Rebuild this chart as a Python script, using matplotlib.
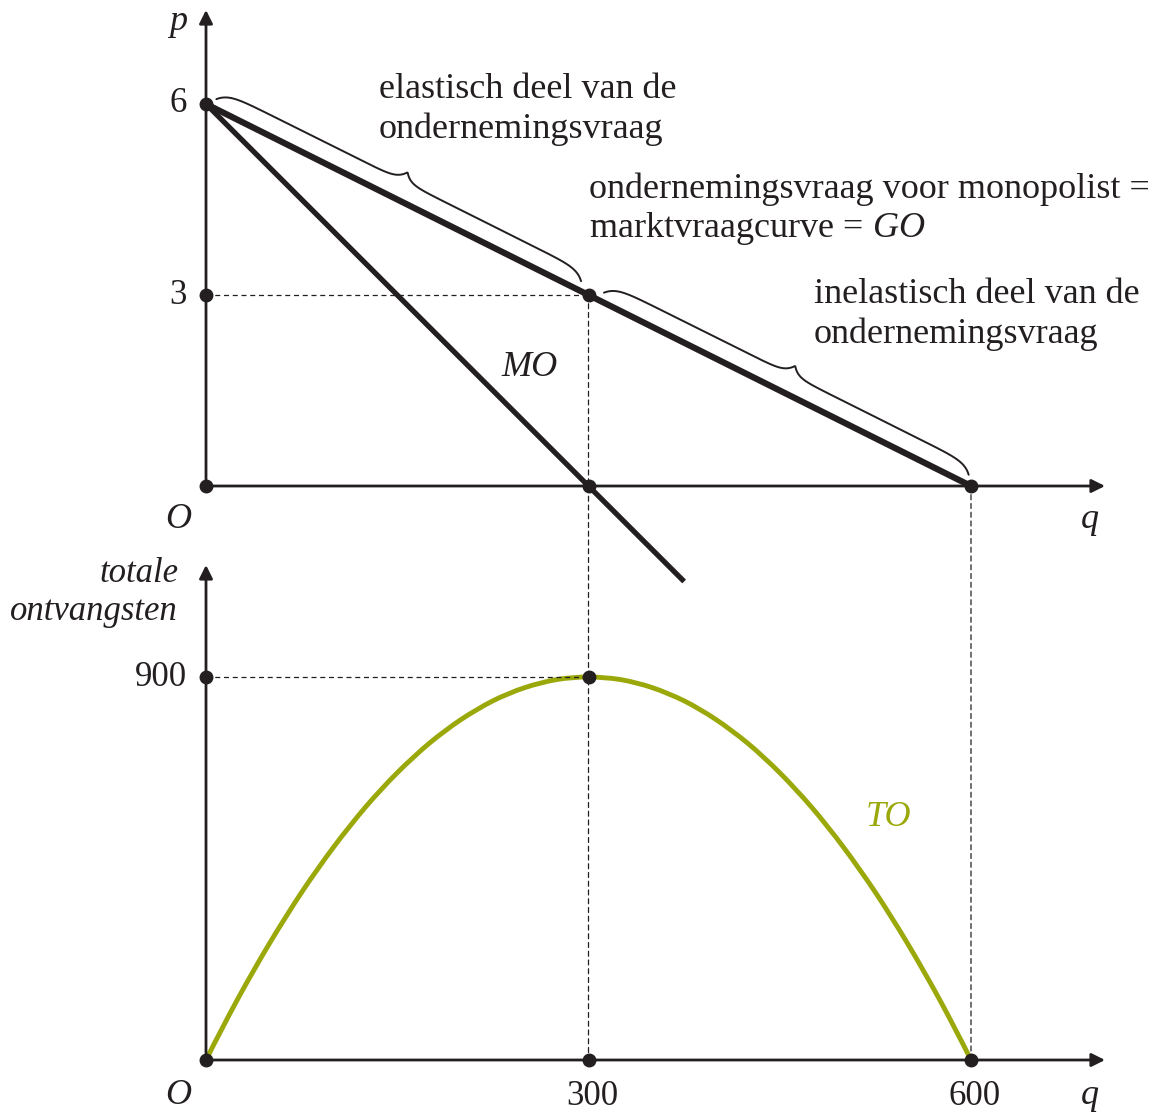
# monopolist: vraag, MO en TO
import numpy as np
import matplotlib.pyplot as plt
from matplotlib.patches import ConnectionPatch, PathPatch
from matplotlib.path import Path

plt.rcParams['font.family'] = 'Liberation Serif'
plt.rcParams['mathtext.fontset'] = 'custom'
plt.rcParams['mathtext.rm'] = 'Liberation Serif'
plt.rcParams['mathtext.it'] = 'Liberation Serif:italic'

INK = '#231f20'
GREEN = '#9aa80a'

# data
q_vraag = [0, 600]
p_vraag = [6, 0]
q_mo = [0, 375]
p_mo = [6, -1.5]
q_to = [0, 25, 50, 75, 100, 125, 150, 175, 200, 225, 250, 275, 300,
        325, 350, 375, 400, 425, 450, 475, 500, 525, 550, 575, 600]
to = [0, 144, 275, 394, 500, 594, 675, 744, 800, 844, 875, 894, 900,
      894, 875, 844, 800, 744, 675, 594, 500, 394, 275, 144, 0]
p_ticks = [6, 3]
q_ticks = [300, 600]
to_ticks = [900]

# layout in pixels
W, H = 1160, 1113
x0px, sx = 206, 765 / 600
y0_top, sy_top = 486, 382 / 6
y0_bot, sy_bot = 1060, 383 / 900
split = 540

fig = plt.figure(figsize=(W / 100, H / 100), dpi=100)
ax1 = fig.add_axes([0, 1 - split / H, 1, split / H])
ax2 = fig.add_axes([0, 0, 1, 1 - split / H])
for ax in (ax1, ax2):
    ax.set_xlim(-x0px / sx, (W - x0px) / sx)
    ax.axis('off')
ax1.set_ylim((y0_top - split) / sy_top, y0_top / sy_top)
ax2.set_ylim(-(H - y0_bot) / sy_bot, (y0_bot - split) / sy_bot)

arrow = dict(arrowstyle='-|>', lw=2.0, color=INK, mutation_scale=20,
             shrinkA=0, shrinkB=0)


def axis_arrows(ax, xend, ytop):
    ax.annotate('', xy=(xend, 0), xytext=(0, 0), arrowprops=arrow)
    ax.annotate('', xy=(0, ytop), xytext=(0, 0), arrowprops=arrow)


axis_arrows(ax1, (1105 - x0px) / sx, (y0_top - 10) / sy_top)
axis_arrows(ax2, (1105 - x0px) / sx, (y0_bot - 565) / sy_bot)


def brace(ax, a, b, d_end=9, d_body=19, d_tip=29, r_end=9, r_tip=7):
    # curly brace next to segment a-b, built in display pixels
    P0 = ax.transData.transform(a)
    P1 = ax.transData.transform(b)
    v = P1 - P0
    L = np.hypot(*v)
    u = v / L
    n = np.array([-u[1], u[0]])
    s = np.linspace(0, L, 600)
    e = np.minimum(s, L - s)
    h = d_end + (d_body - d_end) * (1 - np.exp(-e / r_end))
    h = h + (d_tip - d_body) * np.exp(-np.abs(s - L / 2) / r_tip)
    pts = P0 + np.outer(s, u) + np.outer(h, n)
    xy = ax.transData.inverted().transform(pts)
    ax.plot(xy[:, 0], xy[:, 1], color=INK, lw=1.4, solid_capstyle='round')


def smooth_path(xs, ys):
    # quadratic bezier pieces through the given points
    xs = np.asarray(xs, float)
    ys = np.asarray(ys, float)
    m = np.gradient(ys, xs, edge_order=2)
    verts = [(xs[0], ys[0])]
    codes = [Path.MOVETO]
    for i in range(len(xs) - 1):
        xc = (xs[i] + xs[i + 1]) / 2
        verts += [(xc, ys[i] + m[i] * (xc - xs[i])), (xs[i + 1], ys[i + 1])]
        codes += [Path.CURVE3, Path.CURVE3]
    return Path(verts, codes)


# top panel
ax1.plot(q_vraag, p_vraag, color=INK, lw=4.5, solid_capstyle='butt')
ax1.plot(q_mo, p_mo, color=INK, lw=3.8, solid_capstyle='butt', clip_on=False)
ax1.plot([0, 300], [3, 3], color=INK, lw=0.9, ls=(0, (4, 3)))
brace(ax1, (5, 5.95), (291, 3.09))
brace(ax1, (309, 2.91), (595, 0.05))
ax1.plot([0, 0, 300, 0, 300, 600], [6, 3, 3, 0, 0, 0], 'o', color=INK,
         ms=9, clip_on=False, zorder=5)

# bottom panel
ax2.add_patch(PathPatch(smooth_path(q_to, to), fill=False, edgecolor=GREEN,
                        lw=3.5, joinstyle='round'))
ax2.plot([0, 300], [900, 900], color=INK, lw=0.9, ls=(0, (4, 3)))
ax2.plot([0, 0, 300, 300, 600], [900, 0, 900, 0, 0], 'o', color=INK,
         ms=9, clip_on=False, zorder=5)

# dashed verticals through both panels
for qx, ptop in [(300, 3), (600, 0)]:
    con = ConnectionPatch(xyA=(qx, ptop), coordsA=ax1.transData,
                          xyB=(qx, 0), coordsB=ax2.transData,
                          color=INK, lw=0.9, ls=(0, (4, 3)))
    fig.add_artist(con)

fs = 26
fn = 25
for v in p_ticks:
    ax1.text(-22, v, str(v), ha='center', va='center', fontsize=fn, color=INK)
for v in to_ticks:
    ax2.text(-15, v, str(v), ha='right', va='center', fontsize=fn, color=INK)
for v in q_ticks:
    ax2.text(v + 3, -85, str(v), ha='center', va='center', fontsize=fn, color=INK)


def ftxt(x, y, s, **kw):
    kw.setdefault('fontsize', fs)
    kw.setdefault('color', INK)
    fig.text(x / W, 1 - y / H, s, **kw)


ftxt(178, 22, 'p', style='italic', ha='center', va='center')
ftxt(178, 520, 'O', style='italic', ha='center', va='center')
ftxt(1090, 520, 'q', style='italic', ha='center', va='center')
ftxt(178, 1095, 'O', style='italic', ha='center', va='center')
ftxt(1090, 1095, 'q', style='italic', ha='center', va='center')
ftxt(178, 582, 'totale', style='italic', ha='right', va='baseline', fontsize=25)
ftxt(178, 620, 'ontvangsten', style='italic', ha='right', va='baseline', fontsize=25)
ftxt(530, 368, 'MO', style='italic', ha='center', va='center')
ftxt(888, 818, 'TO', style='italic', ha='center', va='center', color=GREEN)

ftxt(379, 98, 'elastisch deel van de', va='baseline')
ftxt(379, 138, 'ondernemingsvraag', va='baseline')
ftxt(589, 198, 'ondernemingsvraag voor monopolist =', va='baseline')
ftxt(589, 237, 'marktvraagcurve = $GO$', va='baseline')
ftxt(814, 303, 'inelastisch deel van de', va='baseline')
ftxt(814, 343, 'ondernemingsvraag', va='baseline')

fig.savefig('out.png', dpi=100)
